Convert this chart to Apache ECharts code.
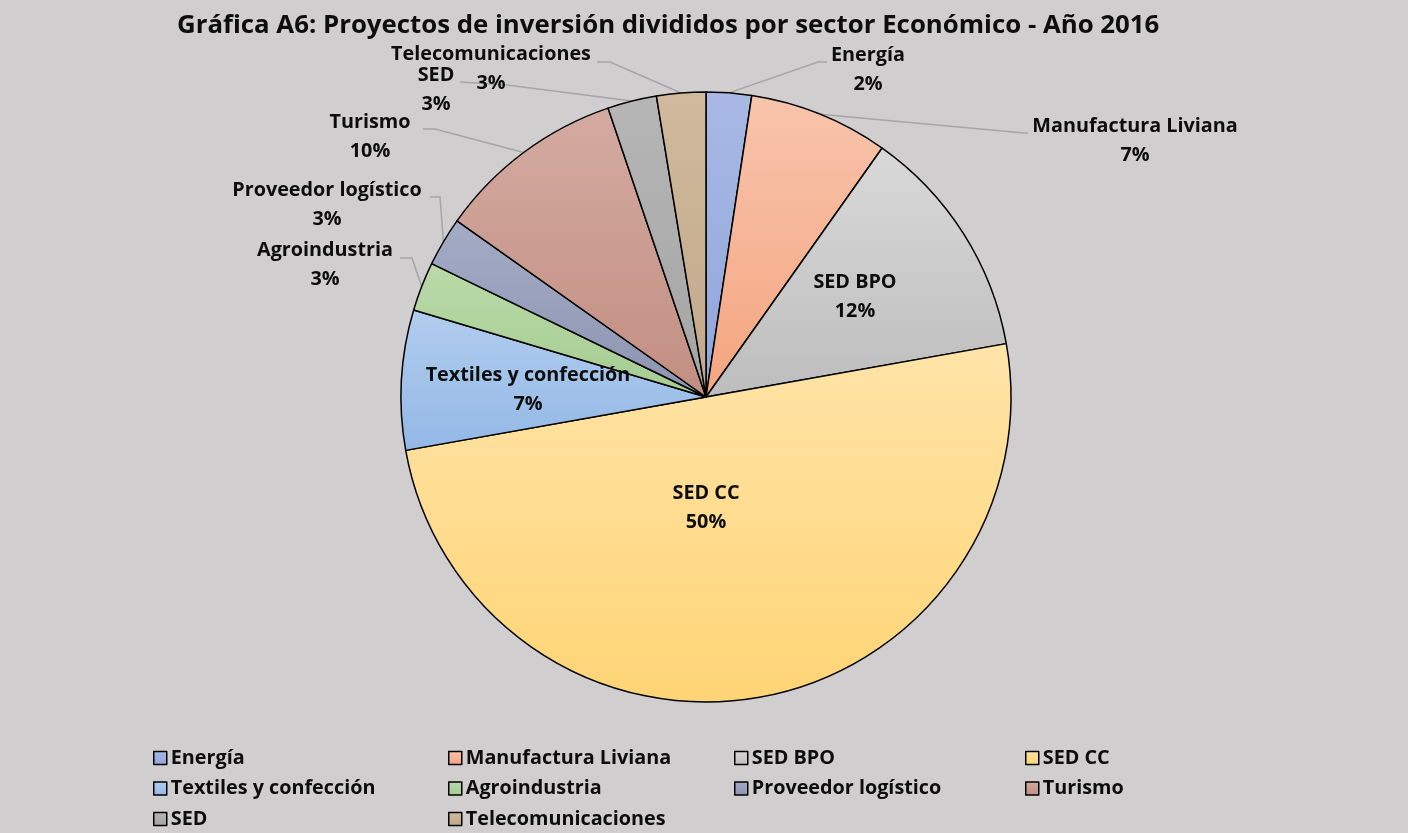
<!DOCTYPE html>
<html><head><meta charset="utf-8">
<script src="https://cdn.jsdelivr.net/npm/echarts@6/dist/echarts.min.js"></script>
<style>html,body{margin:0;padding:0;background:#d0cece}#c{width:1408px;height:833px}</style>
</head><body><div id="c"></div>
<script>
// ---- data ----
const categories = ['Energía','Manufactura Liviana','SED BPO','SED CC','Textiles y confección','Agroindustria','Proveedor logístico','Turismo','SED','Telecomunicaciones'];
const values = [2.4, 7.4, 12.4, 50.0, 7.4, 2.6, 2.6, 10.0, 2.6, 2.6];
const titleText = 'Gráfica A6: Proyectos de inversión divididos por sector Económico - Año 2016';

// ---- styles ----
const colorsTop =    ['#a9b9e4','#f8c4ac','#d9d9d9','#ffe4a8','#b1cdee','#badaa9','#a4abc5','#d4aba1','#b6b6b6','#d0b99d'];
const colorsBottom = ['#8fa5db','#f4a57f','#bdbdbd','#ffd475','#93b8e6','#a4cc91','#8d94b1','#c28e82','#a4a4a4','#c2a889'];
const labelCenters = [[868,70],[1135,141],[855,297],[706,508],[528,390],[325,265],[327,205],[370,137],[436,90],[491,69]];
const insideIdx = [2,3,4];
const lineBends = {0:[[818,62],[827,62]],1:[[1024,133],[1028,133]],5:[[412,258],[400,258]],6:[[440,197],[430,197]],7:[[435,129],[423,129]],8:[[507,85],[460,82]],9:[[610,62],[597,62]]};
const legendCols = [
  {left:153, items:[0,4,8]},
  {left:448, items:[1,5,9]},
  {left:734, items:[2,6]},
  {left:1025, items:[3,7]}
];

const chart = echarts.init(document.getElementById('c'), null, {renderer:'canvas'});
const FONT = 'Open Sans';

const data = categories.map((n,i)=>({
  name:n, value:values[i],
  itemStyle:{color:new echarts.graphic.LinearGradient(0,0,0,1,[{offset:0,color:colorsTop[i]},{offset:1,color:colorsBottom[i]}])},
  label:{position: insideIdx.includes(i)?'inside':'outside'},
  labelLine:{show: !insideIdx.includes(i)}
}));

chart.setOption({
  backgroundColor:'#d0cece',
  animation:false,
  title:{text:titleText,left:172,top:8,textStyle:{fontFamily:FONT,fontWeight:'bold',fontSize:25.8,color:'#0d0d0d'}},
  legend: legendCols.map(c=>({
    orient:'vertical', left:c.left, top:748, height:90, padding:0,
    data:c.items.map(i=>categories[i]),
    icon:'rect', itemWidth:13, itemHeight:13, itemGap:10.5,
    itemStyle:{borderColor:'#000',borderWidth:1.5},
    textStyle:{fontFamily:FONT,fontWeight:'bold',fontSize:19.8,color:'#0d0d0d',lineHeight:20,padding:[0,0,0,-1]},
    selectedMode:false
  })),
  series:[{
    type:'pie',
    center:[706,397], radius:305,
    startAngle:90, clockwise:true,
    data:data,
    itemStyle:{borderColor:'#000',borderWidth:1.5},
    label:{
      fontFamily:FONT,fontWeight:'bold',fontSize:19.8,color:'#0d0d0d',lineHeight:29,
      formatter:p=>p.name+'\n'+Math.round(p.percent)+'%'
    },
    labelLine:{lineStyle:{color:'#a6a6a6',width:1.5},length:10,length2:10},
    labelLayout:function(params){
      const i=params.dataIndex;
      const c=labelCenters[i];
      const r={x:c[0],y:c[1],align:'center',verticalAlign:'middle'};
      if(lineBends[i] && params.labelLinePoints){
        r.labelLinePoints=[params.labelLinePoints[0],lineBends[i][0],lineBends[i][1]];
      }
      return r;
    },
    emphasis:{disabled:true}
  }]
});
</script></body></html>
